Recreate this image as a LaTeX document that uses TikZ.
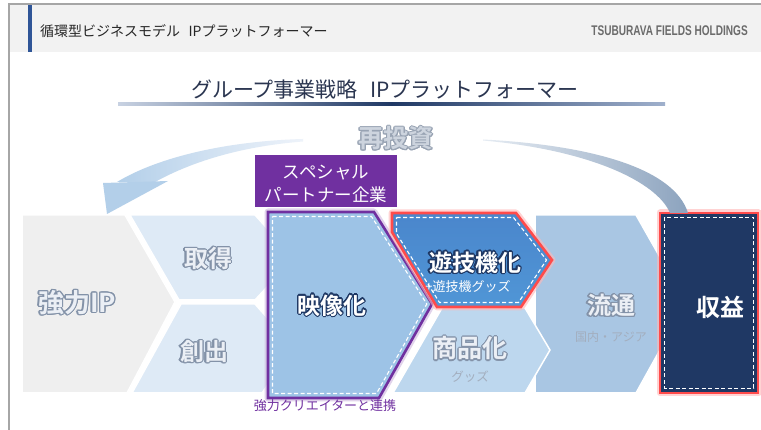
\documentclass[tikz,border=0pt]{standalone}
\usepackage{fontspec}
\setmainfont{Noto Sans CJK JP}[BoldFont={Noto Sans CJK JP Bold}]
\newfontfamily\latinsans{Liberation Sans}
\usepackage[copies]{contour}
\contournumber{16}
\definecolor{hdrbg}{HTML}{F2F2F2}
\definecolor{frame}{HTML}{A6A6A6}
\definecolor{accent}{HTML}{2F5597}
\definecolor{ipgray}{HTML}{EFEFEF}
\definecolor{acq}{HTML}{DEEAF6}
\definecolor{film}{HTML}{9DC3E6}
\definecolor{pachi}{HTML}{5096D6}
\definecolor{pachitop}{HTML}{4A86CC}
\definecolor{goods}{HTML}{BDD7EE}
\definecolor{dist}{HTML}{A9C6E3}
\definecolor{navy}{HTML}{1F3864}
\definecolor{purp}{HTML}{7030A0}
\definecolor{redf}{HTML}{FF4B4B}
\definecolor{olgray}{HTML}{8392A8}
\definecolor{txtlight}{HTML}{EBEFF5}
\definecolor{subgray}{HTML}{A3AEBE}
\definecolor{titlec}{HTML}{2A3550}
\definecolor{ulleft}{HTML}{C8D2E2}
\definecolor{ulright}{HTML}{9FB0CC}
\definecolor{arcL}{HTML}{B3CFE9}
\definecolor{arcLs}{HTML}{EEF3FA}
\definecolor{arcRs}{HTML}{E6ECF3}
\definecolor{arcR}{HTML}{8CA3BE}
\definecolor{reinvfill}{HTML}{CDD4DE}
\definecolor{reinvol}{HTML}{98A3B3}
\tikzset{
  chev/.style={fill=#1, draw=white, line width=1.5pt, line join=miter},
  glowp/.style={draw=purp!35, line width=7pt, line join=round, opacity=0.6},
  glowr/.style={draw=redf!40, line width=7pt, line join=round, opacity=0.6},
  borderp/.style={draw=purp, line width=2.6pt, line join=miter},
  borderr/.style={draw=redf, line width=2.6pt, line join=miter},
  dashw/.style={draw=white, line width=1.1pt, dash pattern=on 4pt off 2.5pt},
  fsz/.style={font=\fontsize{#1}{#1}\selectfont},
  fszb/.style={font=\fontsize{#1}{#1}\selectfont\bfseries},
  inner sep=0pt
}
\newcommand{\grayol}[1]{\contourlength{1.1pt}\textcolor{txtlight}{\contour{olgray}{#1}}}
\newcommand{\navyol}[1]{\contourlength{1.2pt}\textcolor{white}{\contour{navy}{#1}}}
\begin{document}
\begin{tikzpicture}[x=1pt,y=-1pt]
\useasboundingbox (0,0) rectangle (761,430);
\fill[white] (0,0) rectangle (761,430);
% header
\fill[hdrbg] (9,4) rectangle (761,52);
\draw[frame, line width=1.5pt] (761,4) -- (9,4) -- (9,430);
\fill[accent] (28,5) rectangle (31.5,52);
\node[fsz=14, text=black!85, anchor=west] (hdr) at (40,31) {循環型ビジネスモデル\hspace{0.6em}IPプラットフォーマー};
\node[anchor=east, text=black!58] (corp) at (748,31) {\scalebox{0.72}[1]{\latinsans\bfseries\fontsize{14}{14}\selectfont TSUBURAVA FIELDS HOLDINGS}};
% title
\node[fsz=21, text=titlec] (title) at (385,90) {グループ事業戦略\hspace{0.6em}IPプラットフォーマー};
\shade[left color=ulleft, right color=ulright, middle color=navy] (118,102.8) rectangle (665,105.6);
% chevrons
\path[chev=ipgray] (22,215) -- (125,215) -- (175,302) -- (127,393) -- (22,393) -- cycle;
\path[chev=acq] (130,215) -- (255,215) -- (294,258) -- (255,300) -- (179,300) -- cycle;
\path[chev=acq] (181,304) -- (255,304) -- (294,348) -- (262,393) -- (132,393) -- cycle;
\path[chev=dist] (535,215) -- (636,215) -- (686,303) -- (636,393) -- (535,393) -- cycle;
\path[chev=goods] (442,308) -- (525,308) -- (550,350) -- (525,393) -- (393,393) -- cycle;
% film (purple frame)
\draw[glowp] (268,212) -- (374,212) -- (432,304) -- (379,398) -- (268,398) -- cycle;
\fill[film] (268,212) -- (374,212) -- (432,304) -- (379,398) -- (268,398) -- cycle;
\draw[borderp] (268,212) -- (374,212) -- (432,304) -- (379,398) -- (268,398) -- cycle;
\draw[dashw] (272.5,216.5) -- (371.5,216.5) -- (426.8,304) -- (376.5,393.5) -- (272.5,393.5) -- cycle;
% pachinko (red frame)
\draw[glowr] (392,213) -- (516,213) -- (552,260) -- (521,307) -- (437,307) -- (392,232) -- cycle;
\shade[top color=pachitop, bottom color=pachi] (392,213) -- (516,213) -- (552,260) -- (521,307) -- (437,307) -- (392,232) -- cycle;
\draw[borderr] (392,213) -- (516,213) -- (552,260) -- (521,307) -- (437,307) -- (392,232) -- cycle;
\draw[dashw] (396.5,217.5) -- (513.5,217.5) -- (546.5,260) -- (518.5,302.5) -- (439.5,302.5) -- (396.5,233.5) -- cycle;
% revenue
\draw[glowr] (660,213) rectangle (758,393);
\fill[navy] (660,213) rectangle (758,393);
\draw[borderr] (660,213) rectangle (758,393);
\draw[dashw] (664.5,217.5) rectangle (753.5,388.5);
% arcs
\shade[left color=arcL, right color=arcLs] (303,139) .. controls (230,141) and (160,156) .. (117,182) -- (155,182) .. controls (195,160) and (245,146) .. (303,141.5) -- cycle;
\fill[arcL] (103,183) -- (168,181) -- (107,214) -- cycle;
\shade[left color=arcRs, right color=arcR] (483,139.5) .. controls (590,145) and (674,168) .. (688,213) -- (670,213) .. controls (657,182) and (590,150) .. (483,140.5) -- cycle;
% special partner box
\node[fill=purp, minimum width=142pt, minimum height=52pt, anchor=north west] (sp) at (255,155) {};
\node[fsz=17.5, text=white] (sp1) at (326,172.5) {スペシャル};
\node[fsz=17.5, text=white] (sp2) at (326,194.5) {パートナー企業};
% texts
\node[fszb=25] (reinv) at (396,139) {\contourlength{1pt}\textcolor{reinvfill}{\contour{reinvol}{再投資}}};
\node[fszb=26] (ip) at (77,303) {\grayol{強力IP}};
\node[fszb=24] (acqt) at (208,259) {\grayol{取得}};
\node[fszb=24] (cre) at (204,352) {\grayol{創出}};
\node[fszb=23] (filmt) at (332,306) {\navyol{映像化}};
\node[fszb=23] (pachit) at (475,263) {\navyol{遊技機化}};
\node[fsz=13, text=white] (pachis) at (468,287) {+遊技機グッズ};
\node[fszb=25] (goodst) at (470,349) {\grayol{商品化}};
\node[fsz=12.5, text=subgray] (goodss) at (470,377) {グッズ};
\node[fszb=24] (distt) at (611,306) {\grayol{流通}};
\node[fsz=12, text=subgray] (dists) at (611,337) {国内・アジア};
\node[fszb=24, text=white] (rev) at (720,307) {収益};
\node[fsz=13, text=purp] (collab) at (325,406) {強力クリエイターと連携};
\end{tikzpicture}
\end{document}
